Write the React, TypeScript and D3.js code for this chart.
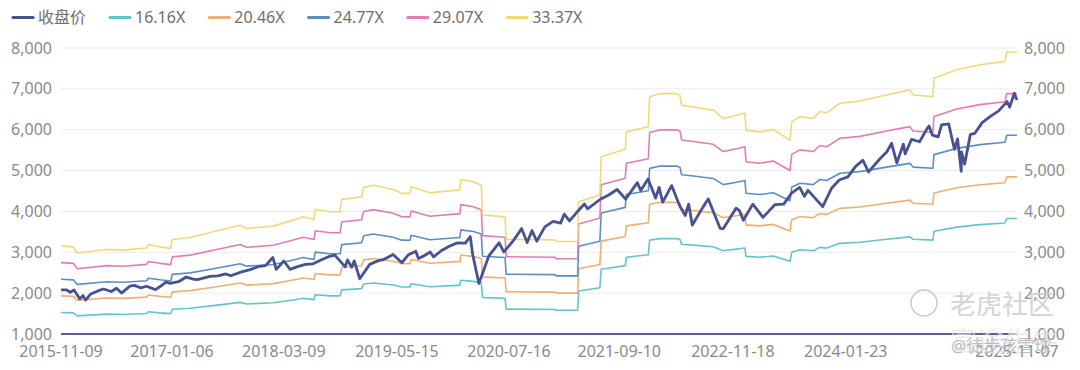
import React, { useEffect, useRef } from "react";
import * as d3 from "d3";

// legend / series
const seriesNames = ["收盘价", "16.16X", "20.46X", "24.77X", "29.07X", "33.37X"];
const peMultiples = [16.16, 20.46, 24.77, 29.07, 33.37];
const seriesColors = ["#48528f", "#63c4cc", "#f0ae74", "#5a8ec7", "#e37cb6", "#f0d979"];

// axis ticks
const xTickDates = [
  "2015-11-09",
  "2017-01-06",
  "2018-03-09",
  "2019-05-15",
  "2020-07-16",
  "2021-09-10",
  "2022-11-18",
  "2024-01-23",
  "2025-11-07",
];
const yTicks = [1000, 2000, 3000, 4000, 5000, 6000, 7000, 8000];

// trailing EPS (band = multiple * eps)
const epsSeries: [string, number][] = [
  ["2015-11-09", 94.5],
  ["2015-12-26", 93.9],
  ["2016-01-10", 89.4],
  ["2016-05-02", 92.0],
  ["2016-07-04", 91.5],
  ["2016-10-01", 93.0],
  ["2016-10-08", 95.5],
  ["2016-11-21", 93.9],
  ["2017-01-01", 92.8],
  ["2017-01-07", 99.3],
  ["2017-03-16", 100.8],
  ["2017-06-13", 104.9],
  ["2017-09-23", 109.8],
  ["2017-10-18", 107.4],
  ["2018-01-28", 109.1],
  ["2018-04-14", 113.5],
  ["2018-05-22", 115.9],
  ["2018-07-02", 114.0],
  ["2018-07-07", 121.3],
  ["2018-09-01", 119.6],
  ["2018-10-10", 119.6],
  ["2018-10-16", 128.7],
  ["2018-12-31", 130.6],
  ["2019-01-08", 137.5],
  ["2019-02-14", 139.1],
  ["2019-05-01", 136.0],
  ["2019-06-02", 133.1],
  ["2019-07-04", 133.0],
  ["2019-07-08", 137.9],
  ["2019-09-18", 133.5],
  ["2019-12-29", 135.5],
  ["2020-01-10", 135.5],
  ["2020-01-14", 143.3],
  ["2020-03-02", 141.6],
  ["2020-04-01", 139.1],
  ["2020-04-06", 117.2],
  ["2020-07-01", 115.9],
  ["2020-07-05", 99.5],
  ["2021-01-08", 99.0],
  ["2021-01-12", 97.8],
  ["2021-04-04", 97.8],
  ["2021-04-08", 127.0],
  ["2021-06-28", 132.0],
  ["2021-07-03", 160.0],
  ["2021-10-03", 165.5],
  ["2021-10-07", 178.2],
  ["2021-12-30", 182.0],
  ["2022-01-04", 204.0],
  ["2022-02-13", 206.3],
  ["2022-04-17", 206.3],
  ["2022-04-30", 205.0],
  ["2022-05-06", 197.8],
  ["2022-06-20", 196.5],
  ["2022-09-04", 194.1],
  ["2022-10-12", 188.0],
  ["2022-12-02", 190.4],
  ["2023-01-03", 192.1],
  ["2023-01-07", 179.4],
  ["2023-03-01", 178.2],
  ["2023-04-21", 180.0],
  ["2023-06-24", 172.0],
  ["2023-07-01", 185.6],
  ["2023-08-01", 189.4],
  ["2023-09-21", 188.0],
  ["2023-10-16", 193.1],
  ["2023-11-11", 192.0],
  ["2024-01-01", 199.2],
  ["2024-03-17", 200.8],
  ["2024-06-27", 205.3],
  ["2024-09-24", 209.0],
  ["2024-10-06", 205.3],
  ["2024-12-21", 204.1],
  ["2024-12-25", 217.6],
  ["2025-03-22", 223.8],
  ["2025-06-19", 227.5],
  ["2025-09-22", 229.9],
  ["2025-09-29", 236.8],
  ["2025-11-07", 236.8],
];

// closing price
const closeSeries: [string, number][] = [
  ["2015-11-09", 2078], ["2015-11-30", 2080], ["2015-12-14", 2021], ["2015-12-29", 2078],
  ["2016-01-20", 1859], ["2016-02-01", 1940], ["2016-02-11", 1829], ["2016-03-01", 1978],
  ["2016-03-31", 2060], ["2016-04-20", 2102], ["2016-05-19", 2040], ["2016-06-08", 2119],
  ["2016-06-27", 2001], ["2016-07-29", 2173], ["2016-08-15", 2190], ["2016-09-09", 2128],
  ["2016-09-30", 2168], ["2016-11-04", 2085], ["2016-11-30", 2199], ["2016-12-13", 2271],
  ["2016-12-30", 2239], ["2017-01-31", 2279], ["2017-03-01", 2396], ["2017-03-27", 2342],
  ["2017-04-13", 2329], ["2017-05-31", 2412], ["2017-06-30", 2423], ["2017-07-31", 2470],
  ["2017-08-18", 2425], ["2017-09-29", 2519], ["2017-10-31", 2575], ["2017-11-30", 2648],
  ["2017-12-29", 2674], ["2018-01-26", 2873], ["2018-02-08", 2581], ["2018-03-09", 2786],
  ["2018-04-02", 2582], ["2018-04-30", 2648], ["2018-05-31", 2705], ["2018-06-29", 2718],
  ["2018-07-31", 2816], ["2018-08-31", 2902], ["2018-09-20", 2930], ["2018-10-29", 2641],
  ["2018-11-07", 2814], ["2018-11-23", 2633], ["2018-12-03", 2790], ["2018-12-24", 2351],
  ["2019-01-31", 2704], ["2019-02-28", 2784], ["2019-03-29", 2834], ["2019-04-30", 2946],
  ["2019-06-03", 2744], ["2019-06-28", 2942], ["2019-07-26", 3026], ["2019-08-05", 2845],
  ["2019-08-30", 2926], ["2019-09-19", 3006], ["2019-10-02", 2888], ["2019-10-31", 3038],
  ["2019-11-29", 3141], ["2019-12-31", 3231], ["2020-01-31", 3226], ["2020-02-19", 3386],
  ["2020-02-28", 2954], ["2020-03-23", 2237], ["2020-04-30", 2912], ["2020-06-08", 3232],
  ["2020-06-26", 3009], ["2020-07-31", 3271], ["2020-09-02", 3580], ["2020-09-23", 3237],
  ["2020-10-12", 3534], ["2020-10-30", 3270], ["2020-11-30", 3622], ["2020-12-31", 3756],
  ["2021-01-29", 3714], ["2021-02-12", 3935], ["2021-03-04", 3768], ["2021-03-31", 3973],
  ["2021-04-30", 4181], ["2021-05-12", 4063], ["2021-06-30", 4298], ["2021-07-30", 4395],
  ["2021-09-02", 4537], ["2021-10-04", 4300], ["2021-11-18", 4705], ["2021-12-01", 4513],
  ["2021-12-29", 4793], ["2022-01-27", 4326], ["2022-02-09", 4587], ["2022-02-23", 4226],
  ["2022-03-29", 4632], ["2022-04-29", 4132], ["2022-05-20", 3901], ["2022-06-02", 4177],
  ["2022-06-16", 3667], ["2022-07-29", 4130], ["2022-08-16", 4305], ["2022-09-30", 3586],
  ["2022-10-12", 3577], ["2022-11-30", 4080], ["2022-12-13", 4019], ["2022-12-28", 3783],
  ["2023-02-02", 4179], ["2023-03-13", 3855], ["2023-04-28", 4169], ["2023-05-31", 4180],
  ["2023-06-30", 4450], ["2023-07-31", 4589], ["2023-08-18", 4370], ["2023-09-01", 4516],
  ["2023-10-27", 4117], ["2023-11-30", 4568], ["2023-12-29", 4770], ["2024-01-31", 4846],
  ["2024-02-29", 5096], ["2024-03-28", 5254], ["2024-04-19", 4967], ["2024-05-31", 5278],
  ["2024-06-28", 5460], ["2024-07-16", 5667], ["2024-08-05", 5186], ["2024-08-30", 5648],
  ["2024-09-06", 5408], ["2024-09-30", 5762], ["2024-10-31", 5705], ["2024-11-29", 6032],
  ["2024-12-06", 6090], ["2024-12-19", 5867], ["2025-01-10", 5827], ["2025-01-23", 6119],
  ["2025-02-19", 6144], ["2025-03-13", 5522], ["2025-03-25", 5777], ["2025-04-08", 4983],
  ["2025-04-09", 5457], ["2025-04-21", 5158], ["2025-05-13", 5886], ["2025-05-30", 5912],
  ["2025-06-27", 6173], ["2025-07-31", 6339], ["2025-08-29", 6460], ["2025-09-30", 6688],
  ["2025-10-10", 6553], ["2025-10-28", 6891], ["2025-11-04", 6771], ["2025-11-07", 6728],
];

const watermarkMain = "老虎社区";
const watermarkFaint = "富途牛牛";
const watermarkUser = "@徒步孩雪球";

const FONT = "'Noto Sans', 'Noto Sans CJK SC', sans-serif";

const App = () => {
  const ref = useRef<SVGSVGElement>(null);

  useEffect(() => {
    const root = d3.select(ref.current);
    root.selectAll("*").remove();

    const W = 1080;
    const H = 370;
    const margin = { top: 48, right: 63, bottom: 36, left: 61 };
    const parse = d3.timeParse("%Y-%m-%d");

    const x = d3
      .scaleTime()
      .domain([parse(xTickDates[0])!, parse(xTickDates[xTickDates.length - 1])!])
      .range([margin.left, W - margin.right]);
    const y = d3
      .scaleLinear()
      .domain([1000, 8000])
      .range([H - margin.bottom, margin.top]);

    const svg = root.attr("width", W).attr("height", H).style("font-family", FONT);

    // grid lines
    svg
      .append("g")
      .selectAll("line")
      .data(yTicks.slice(1))
      .join("line")
      .attr("x1", margin.left)
      .attr("x2", W - margin.right)
      .attr("y1", (d) => y(d))
      .attr("y2", (d) => y(d))
      .attr("stroke", "#ececec")
      .attr("stroke-width", 1);

    // y labels both sides
    const yl = svg.append("g").style("font-size", "16px").attr("fill", "#8a8a8a");
    yl.selectAll("text.l")
      .data(yTicks)
      .join("text")
      .attr("class", "l")
      .attr("x", margin.left - 9)
      .attr("y", (d) => y(d))
      .attr("dy", "0.35em")
      .attr("text-anchor", "end")
      .text((d) => d3.format(",")(d));
    yl.selectAll("text.r")
      .data(yTicks)
      .join("text")
      .attr("class", "r")
      .attr("x", W - margin.right + 7)
      .attr("y", (d) => y(d))
      .attr("dy", "0.35em")
      .attr("text-anchor", "start")
      .text((d) => d3.format(",")(d));

    // x labels
    svg
      .append("g")
      .style("font-size", "16px")
      .attr("fill", "#8a8a8a")
      .selectAll("text")
      .data(xTickDates)
      .join("text")
      .attr("x", (d) => x(parse(d)!))
      .attr("y", H - margin.bottom + 17)
      .attr("dy", "0.35em")
      .attr("text-anchor", "middle")
      .text((d) => d);

    const line = d3
      .line<[string, number]>()
      .x((d) => x(parse(d[0])!))
      .y((d) => y(d[1]));

    // PE bands
    peMultiples.forEach((m, i) => {
      const band: [string, number][] = epsSeries.map(([d, e]) => [d, e * m]);
      svg
        .append("path")
        .datum(band)
        .attr("d", line)
        .attr("fill", "none")
        .attr("stroke", seriesColors[i + 1])
        .attr("stroke-width", 1.6)
        .attr("stroke-linejoin", "round");
    });

    // close price
    svg
      .append("path")
      .datum(closeSeries)
      .attr("d", line)
      .attr("fill", "none")
      .attr("stroke", seriesColors[0])
      .attr("stroke-width", 2.8)
      .attr("stroke-linejoin", "round");

    // x axis line
    svg
      .append("line")
      .attr("x1", margin.left)
      .attr("x2", W - margin.right)
      .attr("y1", y(1000))
      .attr("y2", y(1000))
      .attr("stroke", "#55618f")
      .attr("stroke-width", 2);

    // legend
    const legend = svg.append("g").style("font-size", "16px");
    let lx = 13;
    seriesNames.forEach((name, i) => {
      const g = legend.append("g").attr("transform", `translate(${lx},17)`);
      g.append("line")
        .attr("x1", 0)
        .attr("x2", 20)
        .attr("y1", 0.5)
        .attr("y2", 0.5)
        .attr("stroke", seriesColors[i])
        .attr("stroke-width", 3.2)
        .attr("stroke-linecap", "round");
      const t = g
        .append("text")
        .attr("x", 25)
        .attr("y", 0)
        .attr("dy", "0.35em")
        .attr("fill", "#6e6e6e")
        .text(name);
      const w = (t.node() as SVGTextElement).getComputedTextLength();
      lx += 25 + w + 24;
    });

    // watermarks
    const wm = svg.append("g").attr("pointer-events", "none");
    wm.append("text")
      .attr("x", 950)
      .attr("y", 342)
      .attr("dy", "0.35em")
      .style("font-size", "27px")
      .attr("fill", "#e6e6e6")
      .attr("opacity", 0.7)
      .text(watermarkFaint);
    wm.append("circle")
      .attr("cx", 924)
      .attr("cy", 303)
      .attr("r", 13)
      .attr("fill", "none")
      .attr("stroke", "#c9c9c9")
      .attr("stroke-width", 1.5);
    wm.append("text")
      .attr("x", 950)
      .attr("y", 305)
      .attr("dy", "0.35em")
      .style("font-size", "26px")
      .attr("fill", "#cdcdcd")
      .attr("opacity", 0.85)
      .text(watermarkMain);
    wm.append("text")
      .attr("x", 951)
      .attr("y", 346)
      .attr("dy", "0.35em")
      .style("font-size", "17px")
      .attr("fill", "#b4b4b4")
      .attr("opacity", 0.85)
      .text(watermarkUser);
  }, []);

  return (
    <svg
      ref={ref}
      style={{ position: "absolute", left: 0, top: 0, background: "#fff" }}
    />
  );
};

export default App;
